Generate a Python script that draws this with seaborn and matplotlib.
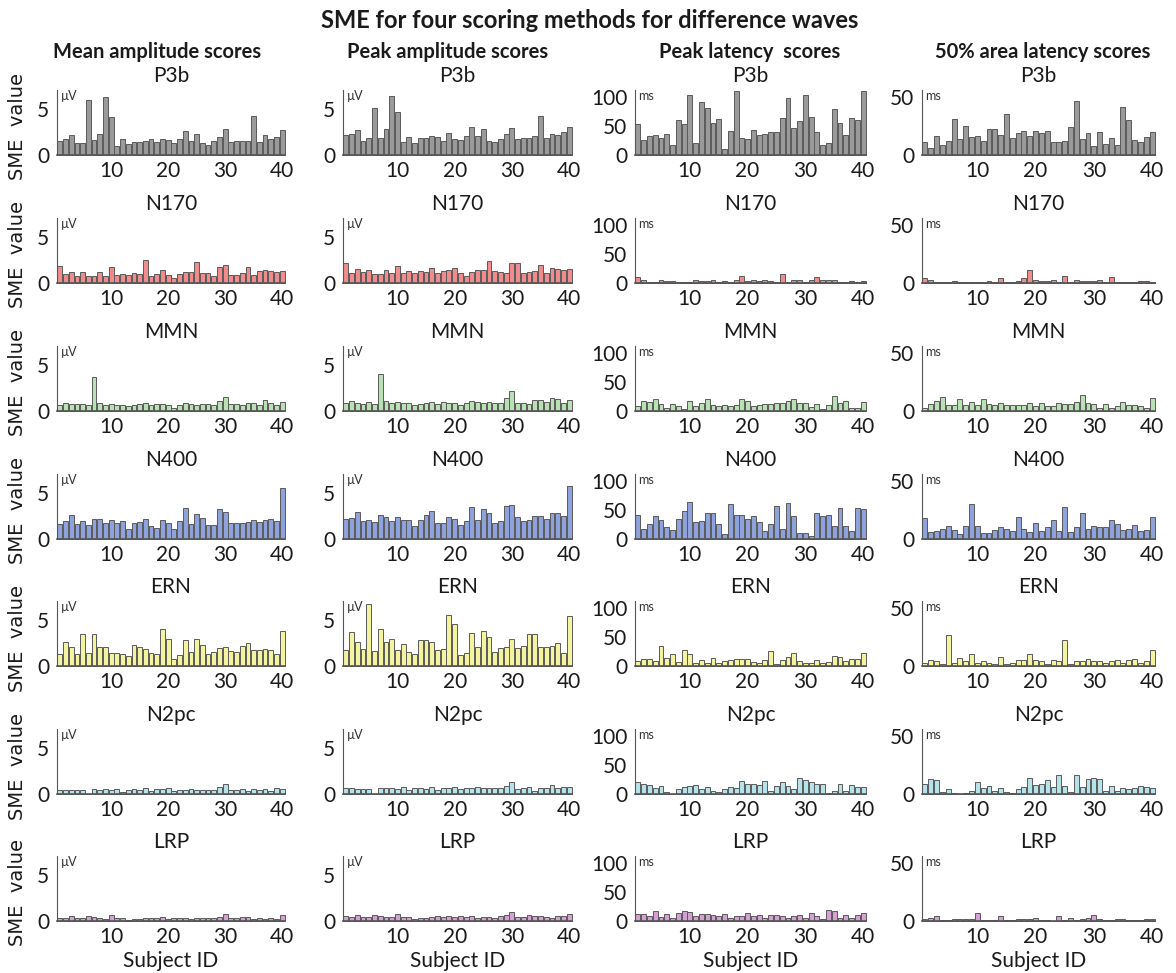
import matplotlib
matplotlib.use("Agg")
import matplotlib.pyplot as plt
from matplotlib import font_manager
import numpy as np
import pandas as pd
import seaborn as sns

# ---------------------------------------------------------------- data
subjects = list(range(1, 41))

components = ["P3b", "N170", "MMN", "N400", "ERN", "N2pc", "LRP"]
methods = ["Mean amplitude scores", "Peak amplitude scores",
           "Peak latency  scores", "50% area latency scores"]
units = ["\u00b5V", "\u00b5V", "ms", "ms"]

# P3b
p3b_mean = [1.5, 1.7, 2.2, 1.3, 1.3, 5.9, 1.6, 2.3, 6.25, 4.1, 1.0, 1.7, 1.15, 1.45, 1.45, 1.5, 1.7, 1.35, 1.7, 1.6,
            1.3, 1.7, 2.6, 1.5, 2.3, 1.25, 1.1, 1.5, 1.9, 2.85, 1.45, 1.55, 1.5, 1.5, 4.2, 1.4, 2.1, 1.7, 1.95, 2.65]
p3b_peak = [2.15, 2.3, 2.65, 1.5, 1.8, 5.1, 1.85, 2.8, 6.3, 4.65, 1.35, 1.95, 1.3, 1.85, 1.85, 2.0, 1.9, 1.55, 2.35, 1.7,
            1.6, 2.05, 3.0, 2.0, 2.8, 1.55, 1.4, 1.7, 2.25, 2.95, 1.7, 1.8, 1.8, 2.05, 4.2, 1.8, 2.3, 2.15, 2.45, 3.0]
p3b_peaklat = [54, 26, 33, 34, 30, 37, 17, 61, 54, 103, 21, 91, 81, 55, 62, 11, 41, 110, 30, 27,
               43, 34, 37, 39, 39, 63, 99, 47, 58, 104, 66, 39, 17, 21, 79, 55, 34, 64, 60, 111]
p3b_area50 = [11, 5.7, 16, 8.6, 12, 31, 13.4, 25, 15.7, 16.3, 11.7, 22, 22.3, 16.9, 35.4, 15, 18.6, 20.6, 16.3, 20.6,
              18.6, 20.3, 11.4, 11.4, 12, 24, 46.3, 13.4, 18.9, 7.7, 20, 9.4, 14.9, 8.9, 41, 30, 12.6, 10.9, 15.7, 20]

# N170
n170_mean = [1.8, 1.0, 1.15, 0.8, 1.15, 0.75, 0.75, 1.15, 0.75, 1.7, 0.9, 1.0, 0.9, 1.05, 0.95, 2.5, 0.75, 1.0, 1.4, 0.9,
             0.55, 0.95, 1.15, 1.15, 2.3, 1.05, 1.1, 0.8, 1.75, 1.9, 0.9, 0.85, 1.1, 1.75, 0.85, 1.25, 1.35, 1.3, 1.2, 1.25]
n170_peak = [2.2, 1.1, 1.55, 1.15, 1.45, 0.95, 0.95, 1.4, 1.05, 1.8, 1.1, 1.3, 1.1, 1.25, 1.15, 1.6, 1.1, 1.25, 1.45, 1.65,
             1.1, 0.7, 1.2, 1.4, 1.4, 2.35, 1.25, 1.2, 1.05, 2.2, 2.2, 1.05, 1.2, 1.25, 1.95, 1.1, 1.6, 1.55, 1.45, 1.5]
n170_peaklat = [10, 6, 2, 2, 5, 3, 4, 1, 2, 2, 5, 3, 3, 6, 2, 4, 2, 6, 12, 3,
                5, 4, 6, 4, 2, 15, 1, 5, 5, 1, 5, 11, 5, 6, 5, 1, 1, 3, 2, 4]
n170_area50 = [4, 3, 1, 1, 1, 2, 1, 1, 1, 1, 1, 2, 1, 4, 1, 1, 2, 4, 11, 3,
               2, 2, 3, 1, 6, 1, 3, 2, 2, 2, 3, 1, 5, 1, 1, 1, 1, 2, 2, 1]

# MMN
mmn_mean = [0.6, 0.85, 0.75, 0.75, 0.8, 0.65, 3.7, 0.85, 0.6, 0.75, 0.7, 0.7, 0.5, 0.6, 0.75, 0.85, 0.6, 0.75, 0.75, 0.6,
            0.35, 0.6, 0.85, 0.75, 0.7, 0.75, 0.75, 0.7, 1.05, 1.5, 0.75, 0.75, 0.6, 0.9, 0.85, 0.7, 1.15, 0.9, 0.65, 0.95]
mmn_peak = [0.85, 1.05, 0.9, 0.8, 1.0, 0.8, 4.0, 1.1, 0.9, 1.0, 0.9, 0.85, 0.6, 0.8, 0.9, 1.0, 0.75, 1.0, 0.9, 0.85,
            0.6, 0.85, 1.05, 1.0, 0.9, 0.95, 0.9, 0.9, 1.45, 2.15, 0.9, 0.9, 0.8, 1.2, 1.15, 0.95, 1.4, 1.3, 0.9, 1.15]
mmn_peaklat = [8, 18, 16, 21, 12, 6, 12, 8, 3, 18, 8, 14, 20, 11, 8, 10, 9, 10, 21, 17,
               8, 11, 12, 12, 14, 13, 17, 20, 13, 13, 7, 12, 4, 10, 25, 13, 17, 5, 5, 15]
mmn_area50 = [3, 6, 9, 12, 5, 5, 10, 5, 8, 5, 10, 6, 5, 7, 5, 5, 5, 5, 7, 4,
              7, 4, 4, 7, 6, 6, 8, 14, 7, 6, 3, 6, 3, 4, 8, 5, 5, 4, 3, 11]

# N400
n400_mean = [1.6, 1.9, 2.6, 1.6, 1.9, 1.5, 2.2, 2.2, 1.7, 2.1, 1.7, 1.9, 1.1, 1.7, 1.8, 2.2, 1.4, 1.2, 2.0, 1.7,
             1.1, 1.9, 3.3, 1.6, 2.7, 2.3, 1.5, 1.5, 3.2, 2.9, 1.7, 1.7, 1.7, 1.8, 2.0, 1.8, 2.1, 2.2, 1.9, 5.5]
n400_peak = [2.2, 2.3, 2.9, 1.9, 2.0, 1.8, 2.6, 2.4, 1.9, 2.4, 2.1, 2.1, 1.4, 2.0, 2.6, 3.0, 1.7, 1.7, 2.4, 2.2,
             1.5, 1.9, 3.4, 2.0, 3.2, 2.8, 1.7, 1.9, 3.6, 3.7, 2.4, 1.9, 2.1, 2.5, 2.5, 2.2, 2.8, 2.8, 2.5, 5.7]
n400_peaklat = [42, 18, 25, 40, 32, 20, 15, 35, 49, 63, 29, 31, 44, 45, 26, 9, 60, 41, 41, 34,
                40, 30, 14, 25, 57, 17, 62, 39, 11, 10, 6, 45, 40, 42, 22, 53, 23, 14, 54, 51]
n400_area50 = [18, 6, 7, 9, 11, 8, 4, 11, 30, 11, 5, 5, 8, 10, 9, 7, 19, 9, 6, 14,
               7, 10, 16, 7, 28, 6, 10, 22, 9, 11, 10, 10, 16, 13, 8, 9, 12, 7, 8, 19]

# ERN
ern_mean = [1.3, 2.6, 2.0, 1.3, 3.5, 1.4, 3.5, 2.1, 2.0, 1.4, 1.4, 1.3, 1.1, 2.3, 2.0, 1.8, 1.4, 1.3, 4.0, 2.9,
            0.8, 1.2, 2.8, 1.5, 2.9, 2.3, 1.3, 1.5, 1.9, 2.1, 1.6, 1.5, 2.2, 2.5, 1.7, 1.7, 1.8, 1.7, 1.3, 3.8]
ern_peak = [1.7, 3.65, 2.55, 1.8, 6.7, 1.6, 4.0, 2.55, 2.9, 1.7, 2.35, 1.5, 1.3, 2.75, 2.75, 2.6, 1.7, 1.8, 5.5, 4.55,
            1.15, 1.4, 3.6, 2.1, 3.8, 3.1, 1.5, 1.9, 2.0, 2.9, 1.95, 2.15, 3.45, 3.45, 2.0, 2.0, 2.15, 2.5, 1.4, 5.35]
ern_peaklat = [8, 12, 12, 8, 34, 13, 21, 7, 28, 21, 6, 10, 5, 13, 6, 8, 10, 12, 12, 12,
               7, 6, 11, 25, 4, 11, 15, 22, 9, 5, 6, 10, 6, 7, 18, 16, 9, 12, 12, 22]
ern_area50 = [3, 5, 4, 2, 27, 3, 7, 4, 10, 3, 4, 3, 2, 8, 2, 3, 5, 5, 10, 5,
              4, 2, 5, 4, 22, 2, 4, 4, 6, 4, 4, 3, 4, 5, 3, 5, 6, 3, 4, 14]

# N2pc
n2pc_mean = [0.45, 0.45, 0.4, 0.4, 0.4, 0.0, 0.5, 0.4, 0.55, 0.45, 0.55, 0.25, 0.45, 0.55, 0.4, 0.65, 0.3, 0.5, 0.5, 0.6,
             0.35, 0.4, 0.4, 0.5, 0.45, 0.4, 0.4, 0.4, 0.75, 1.1, 0.4, 0.45, 0.55, 0.3, 0.55, 0.45, 0.55, 0.3, 0.6, 0.55]
n2pc_peak = [0.6, 0.6, 0.55, 0.55, 0.5, 0.0, 0.65, 0.6, 0.7, 0.55, 0.8, 0.4, 0.6, 0.7, 0.55, 0.8, 0.45, 0.7, 0.7, 0.8,
             0.55, 0.6, 0.6, 0.8, 0.6, 0.7, 0.6, 0.65, 0.9, 1.3, 0.5, 0.6, 0.8, 0.3, 0.6, 0.65, 0.95, 0.6, 0.75, 0.75]
n2pc_peaklat = [21, 17, 16, 11, 13, 4, 0, 9, 12, 13, 16, 9, 12, 6, 3, 9, 12, 11, 23, 17,
                17, 15, 22, 5, 13, 20, 14, 9, 28, 24, 21, 18, 18, 2, 5, 18, 6, 16, 12, 12]
n2pc_area50 = [9, 13, 12, 2, 4, 1, 0, 1, 3, 10, 5, 7, 3, 5, 2, 1, 4, 6, 14, 8,
               9, 12, 6, 16, 7, 2, 16, 6, 13, 14, 13, 3, 7, 3, 5, 4, 5, 7, 6, 5]

# LRP
lrp_mean = [0.3, 0.35, 0.55, 0.3, 0.3, 0.5, 0.45, 0.35, 0.25, 0.7, 0.35, 0.3, 0.15, 0.2, 0.2, 0.35, 0.35, 0.3, 0.4, 0.25,
            0.35, 0.3, 0.35, 0.25, 0.3, 0.35, 0.3, 0.35, 0.45, 0.75, 0.35, 0.35, 0.45, 0.4, 0.25, 0.35, 0.25, 0.3, 0.25, 0.7]
lrp_peak = [0.5, 0.4, 0.65, 0.4, 0.45, 0.6, 0.5, 0.45, 0.4, 0.8, 0.45, 0.45, 0.2, 0.3, 0.35, 0.45, 0.5, 0.45, 0.5, 0.4,
            0.5, 0.4, 0.55, 0.35, 0.4, 0.45, 0.35, 0.5, 0.6, 0.95, 0.45, 0.4, 0.65, 0.55, 0.5, 0.45, 0.35, 0.55, 0.5, 0.8]
lrp_peaklat = [12, 12, 8, 18, 7, 12, 6, 13, 17, 16, 8, 12, 12, 11, 9, 12, 5, 9, 8, 13,
               8, 10, 6, 11, 10, 8, 6, 9, 10, 6, 14, 9, 3, 19, 18, 5, 10, 6, 10, 13]
lrp_area50 = [2, 3, 4, 1, 1, 2, 2, 2, 2, 7, 1, 1, 1, 4, 1, 1, 2, 2, 2, 3,
              1, 1, 0, 4, 1, 3, 1, 2, 3, 5, 2, 1, 1, 2, 2, 1, 1, 1, 2, 2]

rows = {
    "P3b": [p3b_mean, p3b_peak, p3b_peaklat, p3b_area50],
    "N170": [n170_mean, n170_peak, n170_peaklat, n170_area50],
    "MMN": [mmn_mean, mmn_peak, mmn_peaklat, mmn_area50],
    "N400": [n400_mean, n400_peak, n400_peaklat, n400_area50],
    "ERN": [ern_mean, ern_peak, ern_peaklat, ern_area50],
    "N2pc": [n2pc_mean, n2pc_peak, n2pc_peaklat, n2pc_area50],
    "LRP": [lrp_mean, lrp_peak, lrp_peaklat, lrp_area50],
}

# ---------------------------------------------------------------- style
colors = {
    "P3b": "#9a9a9a",
    "N170": "#f08c8c",
    "MMN": "#b9e2b4",
    "N400": "#8ea3dc",
    "ERN": "#f4f4a0",
    "N2pc": "#b6e2ea",
    "LRP": "#d6a0d6",
}
edge = "#5a5a5a"

col_ylim = [7.0, 7.0, 112, 56]
col_ticks = [[0, 5], [0, 5], [0, 50, 100], [0, 50]]

sns.set_theme(style="white")
available = {f.name for f in font_manager.fontManager.ttflist}
main_font = next((f for f in ["Liberation Sans Narrow", "Lato", "Open Sans"] if f in available), "DejaVu Sans")
plt.rcParams["font.family"] = [main_font, "DejaVu Sans"]

W, H = 1176, 973
fig = plt.figure(figsize=(W / 100, H / 100), dpi=100)
fig.patch.set_facecolor("white")

col_left = [57, 343, 635, 922]
col_width = [228, 229, 231, 233]
row_base = [155, 283, 411, 539, 666, 794, 921]
ax_h = 65

fig.text(590 / W, 1 - 20 / H, "SME for four scoring methods for difference waves",
         ha="center", va="center", fontsize=17, fontweight="bold", color="#1a1a1a")
head_x = [157, 448, 750, 1043]
for j, m in enumerate(methods):
    fig.text(head_x[j] / W, 1 - 52 / H, m, ha="center", va="center",
             fontsize=14.5, fontweight="bold", color="#1a1a1a")

for i, comp in enumerate(components):
    for j in range(4):
        ax = fig.add_axes([col_left[j] / W, 1 - row_base[i] / H,
                           col_width[j] / W, ax_h / H])
        df = pd.DataFrame({"subject": subjects, "sme": rows[comp][j]})
        sns.barplot(data=df, x="subject", y="sme", native_scale=True, width=0.85,
                    color=colors[comp], saturation=1, edgecolor=edge, linewidth=0.7,
                    ax=ax)
        for p in ax.patches:
            p.set_clip_on(False)
        ax.set_xlim(0.5, 40.5)
        ax.set_ylim(0, col_ylim[j])
        ax.set_yticks(col_ticks[j])
        ax.set_yticklabels([str(t) for t in col_ticks[j]])
        ax.set_xticks([10, 20, 30, 40])
        ax.set_xticklabels(["10", "20", "30", "40"])
        ax.tick_params(axis="x", length=0, pad=4, labelsize=15, colors="#1a1a1a")
        ax.tick_params(axis="y", direction="inout", length=5, width=0.8, pad=3,
                       labelsize=15, colors="#1a1a1a", color="#555555")
        for s in ["top", "right"]:
            ax.spines[s].set_visible(False)
        ax.spines["left"].set_color("#555555")
        ax.spines["left"].set_linewidth(0.8)
        ax.spines["bottom"].set_color("#555555")
        ax.spines["bottom"].set_linewidth(1.2)
        ax.set_facecolor("none")
        ax.set_title(comp, fontsize=15, pad=6, color="#1a1a1a")
        ax.text(0.015, 1.0, units[j], transform=ax.transAxes, ha="left", va="top",
                fontsize=9, color="#333333")
        ax.set_ylabel("")
        if i == len(components) - 1:
            ax.set_xlabel("Subject ID", fontsize=15, labelpad=3, color="#1a1a1a")
        else:
            ax.set_xlabel("")

    fig.text(18 / W, 1 - (row_base[i] - 28) / H, "SME  value", rotation=90,
             ha="center", va="center", fontsize=14, family="DejaVu Sans", color="#1a1a1a")

fig.savefig("out.png", dpi=100, facecolor="white")
